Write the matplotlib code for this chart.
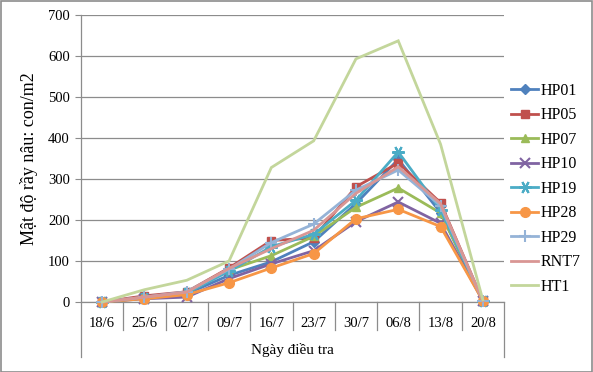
import matplotlib
matplotlib.use("Agg")
import matplotlib.pyplot as plt
from matplotlib.patches import Rectangle
import matplotlib.transforms as mtransforms

categories = ["18/6", "25/6", "02/7", "09/7", "16/7", "23/7", "30/7", "06/8", "13/8", "20/8"]
HP01 = [0, 10, 20, 65, 98, 147, 240, 348, 218, 3]
HP05 = [0, 15, 25, 83, 150, 156, 281, 339, 242, 3]
HP07 = [0, 10, 22, 78, 113, 160, 231, 278, 217, 3]
HP10 = [0, 8, 12, 57, 93, 125, 196, 244, 192, 3]
HP19 = [0, 10, 22, 75, 135, 165, 248, 366, 225, 3]
HP28 = [0, 8, 18, 47, 83, 118, 203, 226, 184, 3]
HP29 = [0, 12, 25, 80, 145, 190, 273, 322, 235, 3]
RNT7 = [0, 12, 24, 82, 130, 175, 265, 330, 240, 3]
HT1 = [0, 30, 53, 100, 328, 393, 593, 637, 385, 5]

series = [
    ("HP01", HP01, "#4F81BD", "D", 5),
    ("HP05", HP05, "#C0504D", "s", 6),
    ("HP07", HP07, "#9BBB59", "^", 6),
    ("HP10", HP10, "#8064A2", "x", 7),
    ("HP19", HP19, "#4BACC6", (6, 2, 90), 9),
    ("HP28", HP28, "#F79646", "o", 7),
    ("HP29", HP29, "#95B3D7", "+", 8),
    ("RNT7", RNT7, "#D99694", "None", 0),
    ("HT1", HT1, "#C3D69B", "None", 0),
]

plt.rcParams['font.family'] = ['Liberation Serif', 'DejaVu Serif']

fig = plt.figure(figsize=(5.93, 3.72), dpi=100)
ax = fig.add_axes([81/593, 1-302/372, (504-81)/593, (302-15)/372])

x = list(range(len(categories)))
handles = []
for name, vals, col, mk, ms in series:
    mew = 1.5 if mk in ("x", "+") or isinstance(mk, tuple) else 1
    h, = ax.plot(x, vals, color=col, lw=2, marker=mk, markersize=ms,
                 markeredgewidth=mew, markerfacecolor=col, markeredgecolor=col,
                 label=name, solid_joinstyle='miter', clip_on=False, zorder=3)
    handles.append(h)

ax.set_xlim(-0.5, len(categories) - 0.5)
ax.set_ylim(0, 700)
ax.set_yticks(range(0, 701, 100))
ax.yaxis.grid(True, color="#8C8C8C", lw=0.9)
ax.set_axisbelow(True)
for s in ["top", "right", "left"]:
    ax.spines[s].set_visible(False)
ax.spines["bottom"].set_color("#8C8C8C")
ax.spines["bottom"].set_linewidth(0.9)
ax.tick_params(axis='y', length=4, color="#8C8C8C", labelsize=10.5, pad=4)
ax.tick_params(axis='x', length=0, labelsize=10.5, pad=11)
ax.set_xticks(x)
ax.set_xticklabels(categories)

# Category separator lines and axis lines extending below
trans = mtransforms.blended_transform_factory(ax.transData, fig.transFigure)
ymid = 1 - 330/372
ylow = 1 - 357/372
ytop = 1 - 15/372
ybot = 1 - 302/372
for i in range(len(categories) + 1):
    xb = i - 0.5
    if i == 0 or i == len(categories):
        ax.plot([xb, xb], [ylow, ybot], transform=trans, color="#8C8C8C", lw=0.9, clip_on=False)
    else:
        ax.plot([xb, xb], [ymid, ybot], transform=trans, color="#8C8C8C", lw=0.9, clip_on=False)
ax.plot([-0.5, -0.5], [ybot, ytop], transform=trans, color="#8C8C8C", lw=0.9, clip_on=False)

ax.set_ylabel("Mật độ rầy nâu: con/m2", fontsize=13, labelpad=7)
fig.text(292/593, 1 - 350/372, "Ngày điều tra", ha="center", va="center", fontsize=11)

fig.legend(handles=handles, loc="upper left", bbox_to_anchor=(511/593, 1 - 83/372),
           frameon=False, fontsize=11.5, handlelength=1.7, handletextpad=0.15,
           labelspacing=0.53, borderpad=0, borderaxespad=0)

fig.patches.append(Rectangle((0.001, 0.001), 0.997, 0.996, transform=fig.transFigure,
                             fill=False, edgecolor="#8C8C8C", lw=1.2))

fig.savefig("out.png", dpi=100)
